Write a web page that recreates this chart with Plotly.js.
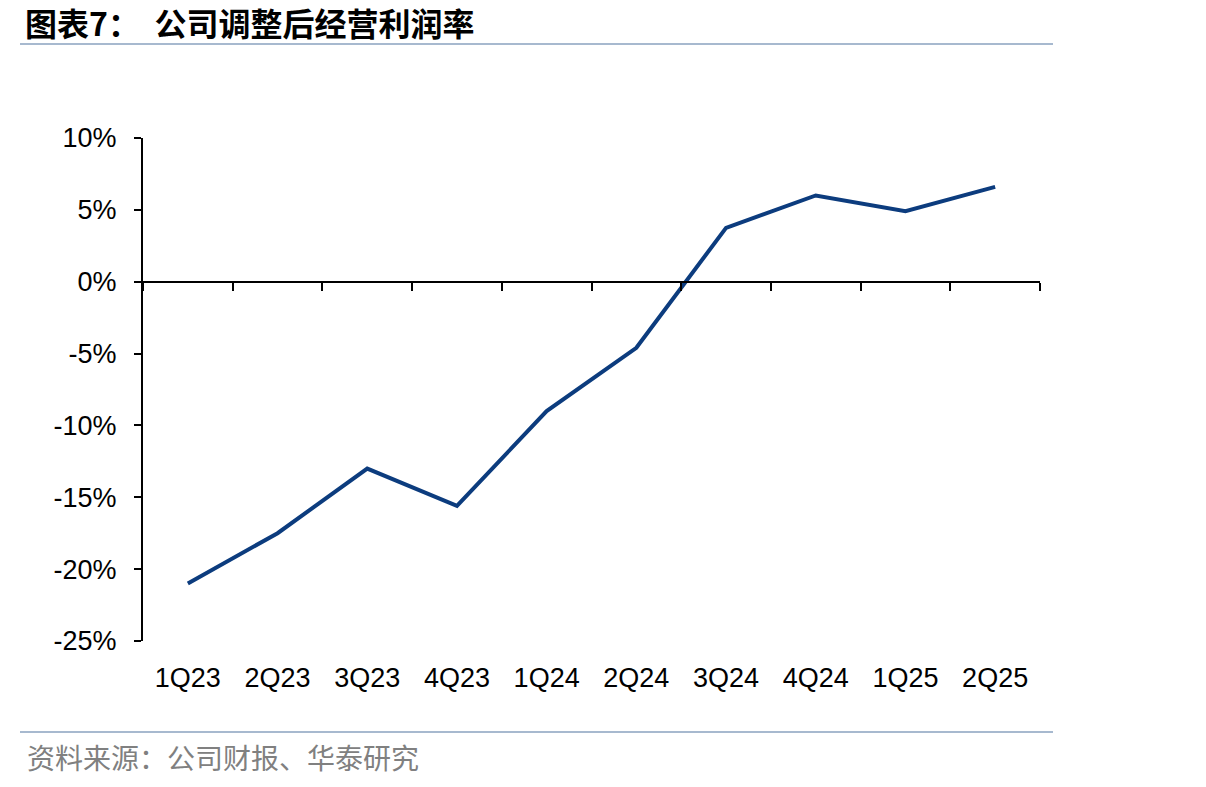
<!DOCTYPE html>
<html>
<head>
<meta charset="utf-8">
<script src="https://cdn.plot.ly/plotly-3.0.1.min.js"></script>
<style>
html,body{margin:0;padding:0;background:#fff;}
#chart{width:1206px;height:787px;}
</style>
</head>
<body>
<div id="chart"></div>
<script>
// Data
var categories = ["1Q23","2Q23","3Q23","4Q23","1Q24","2Q24","3Q24","4Q24","1Q25","2Q25"];
var margin = [-21.0, -17.5, -13.0, -15.6, -9.0, -4.6, 3.75, 6.0, 4.9, 6.6];
var yTicks = [10, 5, 0, -5, -10, -15, -20, -25];
var titleText = "图表7：  公司调整后经营利润率";
var sourceText = "资料来源：公司财报、华泰研究";

var yMin = -25, yMax = 10;
var zeroPos = (0 - yMin) / (yMax - yMin);

var traces = [
  {
    x: categories, y: margin, type: "scatter", mode: "lines",
    xaxis: "x2", yaxis: "y",
    line: {color: "#0c3c7e", width: 4},
    hoverinfo: "skip", showlegend: false
  },
  {
    x: categories, y: margin, type: "scatter", mode: "lines",
    xaxis: "x", yaxis: "y",
    line: {color: "rgba(0,0,0,0)", width: 0},
    hoverinfo: "skip", showlegend: false
  }
];

var lineColor = "#a7b9cf";
var L = 143, R = 1040, T = 138, B = 641;
function px(xp){ return (xp - L) / (R - L); }
function py(yp){ return (B - yp) / (B - T); }

var layout = {
  width: 1206, height: 787,
  margin: {l: L, r: 1206 - R, t: T, b: 787 - B, pad: 0},
  paper_bgcolor: "#fff", plot_bgcolor: "#fff",
  showlegend: false,
  font: {family: "Liberation Sans, Arial, sans-serif", color: "#000", size: 27},
  xaxis: {
    type: "category", range: [-0.5, categories.length - 0.5],
    showline: false, showgrid: false, zeroline: false,
    ticks: "", showticklabels: true,
    tickfont: {size: 27, color: "#000"},
    ticklabelstandoff: 18,
    fixedrange: true
  },
  xaxis2: {
    type: "category", range: [-0.5, categories.length - 0.5],
    overlaying: "x", anchor: "free", position: zeroPos,
    showline: true, linecolor: "#000", linewidth: 2,
    showgrid: false, zeroline: false,
    ticks: "outside", ticklen: 8, tickwidth: 2, tickcolor: "#000",
    tickson: "boundaries", showticklabels: false,
    fixedrange: true
  },
  yaxis: {
    range: [yMin, yMax],
    tickvals: yTicks, ticktext: yTicks.map(function(v){return v + "%";}),
    showline: true, linecolor: "#000", linewidth: 2,
    ticks: "outside", ticklen: 7, tickwidth: 2, tickcolor: "#000",
    showgrid: false, zeroline: false,
    tickfont: {size: 27, color: "#000"},
    ticklabelstandoff: 12,
    fixedrange: true
  },
  shapes: [
    {type: "line", xref: "paper", yref: "paper", x0: px(20), x1: px(1053), y0: py(44), y1: py(44),
     line: {color: lineColor, width: 2}},
    {type: "line", xref: "paper", yref: "paper", x0: px(20), x1: px(1053), y0: py(732), y1: py(732),
     line: {color: lineColor, width: 2}}
  ],
  annotations: [
    {text: "<b>" + titleText + "</b>", xref: "paper", yref: "paper", x: px(23), y: py(22),
     xanchor: "left", yanchor: "middle", showarrow: false,
     font: {family: "Noto Sans CJK SC, sans-serif", size: 32, color: "#000"}},
    {text: sourceText, xref: "paper", yref: "paper", x: px(25), y: py(757),
     xanchor: "left", yanchor: "middle", showarrow: false,
     font: {family: "Noto Sans CJK SC, sans-serif", size: 28, color: "#808080"}}
  ]
};

Plotly.newPlot("chart", traces, layout, {displayModeBar: false, staticPlot: true});
</script>
</body>
</html>
